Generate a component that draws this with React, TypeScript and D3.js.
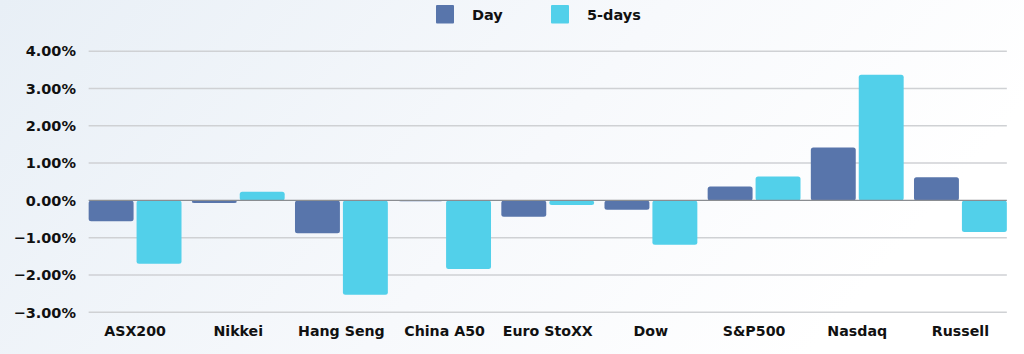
import { useRef, useEffect } from "react";
import * as d3 from "d3";

const categories = [
  "ASX200",
  "Nikkei",
  "Hang Seng",
  "China A50",
  "Euro StoXX",
  "Dow",
  "S&P500",
  "Nasdaq",
  "Russell",
];
const dayValues = [-0.56, -0.07, -0.88, -0.02, -0.44, -0.25, 0.37, 1.42, 0.62];
const fiveDayValues = [-1.7, 0.23, -2.53, -1.84, -0.12, -1.19, 0.64, 3.37, -0.85];
const yTicks = [-3, -2, -1, 0, 1, 2, 3, 4];

const seriesKeys = ["Day", "5-days"];
const seriesColors = ["#5875ab", "#52d0ea"];

const WIDTH = 1024;
const HEIGHT = 354;
const FONT = "'DejaVu Sans', sans-serif";

export default function App() {
  const svgRef = useRef<SVGSVGElement>(null);

  useEffect(() => {
    if (!svgRef.current) return;
    const svg = d3.select(svgRef.current);
    svg.selectAll("*").remove();

    // background gradient
    const defs = svg.append("defs");
    const grad = defs
      .append("linearGradient")
      .attr("id", "bg")
      .attr("x1", "0")
      .attr("y1", "0")
      .attr("x2", "1")
      .attr("y2", "0.3");
    grad.append("stop").attr("offset", "0").attr("stop-color", "#e8eff6");
    grad.append("stop").attr("offset", "0.6").attr("stop-color", "#f7f9fc");
    grad.append("stop").attr("offset", "1").attr("stop-color", "#ffffff");
    svg.append("rect").attr("width", WIDTH).attr("height", HEIGHT).attr("fill", "url(#bg)");

    const x0 = d3
      .scaleBand<string>()
      .domain(categories)
      .range([83.5, 1012])
      .paddingInner(0.1)
      .paddingOuter(0.05);

    const x1 = d3
      .scaleBand<string>()
      .domain(seriesKeys)
      .range([0, x0.bandwidth()])
      .paddingInner(0.0625);

    const y = d3.scaleLinear().domain([-3, 4]).range([312.3, 51.2]);

    const plotLeft = x0(categories[0])!;
    const plotRight = x0(categories[categories.length - 1])! + x0.bandwidth();

    // gridlines
    const g = svg.append("g");
    g.selectAll("line.grid")
      .data(yTicks.filter((t) => t !== 0))
      .join("line")
      .attr("class", "grid")
      .attr("x1", plotLeft)
      .attr("x2", plotRight)
      .attr("y1", (d) => y(d))
      .attr("y2", (d) => y(d))
      .attr("stroke", "#cfd1d4")
      .attr("stroke-width", 1.5);

    // y tick labels
    g.selectAll("text.ytick")
      .data(yTicks)
      .join("text")
      .attr("class", "ytick")
      .attr("x", 76)
      .attr("y", (d) => y(d))
      .attr("dy", "0.36em")
      .attr("text-anchor", "end")
      .attr("fill", "#111")
      .style("font-family", FONT)
      .style("font-size", "14.5px")
      .style("font-weight", 700)
      .text((d) => `${d3.format(".2f")(d)}%`);

    // bars
    const data = categories.map((c, i) => ({
      cat: c,
      values: [dayValues[i], fiveDayValues[i]],
    }));

    const groups = g
      .selectAll("g.cat")
      .data(data)
      .join("g")
      .attr("class", "cat")
      .attr("transform", (d) => `translate(${x0(d.cat)},0)`);

    groups
      .selectAll("rect")
      .data((d) => d.values.map((v, k) => ({ key: seriesKeys[k], v, k })))
      .join("rect")
      .attr("x", (d) => x1(d.key)!)
      .attr("width", x1.bandwidth())
      .attr("y", (d) => Math.min(y(d.v), y(0)))
      .attr("height", (d) => Math.max(Math.abs(y(d.v) - y(0)), 0.8))
      .attr("rx", 2.5)
      .attr("fill", (d) => seriesColors[d.k]);

    // zero line
    g.append("line")
      .attr("x1", plotLeft)
      .attr("x2", plotRight)
      .attr("y1", y(0))
      .attr("y2", y(0))
      .attr("stroke", "#8a8d91")
      .attr("stroke-width", 1.2);

    // x labels
    g.selectAll("text.xlab")
      .data(categories)
      .join("text")
      .attr("class", "xlab")
      .attr("x", (d) => x0(d)! + x0.bandwidth() / 2)
      .attr("y", 331)
      .attr("dy", "0.36em")
      .attr("text-anchor", "middle")
      .attr("fill", "#111")
      .style("font-family", FONT)
      .style("font-size", "14.2px")
      .style("font-weight", 700)
      .text((d) => d);

    // legend
    const legendX = [436, 551];
    const legend = svg
      .selectAll("g.legend")
      .data(seriesKeys)
      .join("g")
      .attr("class", "legend")
      .attr("transform", (_, i) => `translate(${legendX[i]},5)`);
    legend
      .append("rect")
      .attr("width", 18)
      .attr("height", 18.5)
      .attr("rx", 1)
      .attr("fill", (_, i) => seriesColors[i]);
    legend
      .append("text")
      .attr("x", 36)
      .attr("y", 9.5)
      .attr("dy", "0.36em")
      .attr("fill", "#111")
      .style("font-family", FONT)
      .style("font-size", "14.5px")
      .style("font-weight", 700)
      .text((d) => d);
  }, []);

  return (
    <div style={{ position: "absolute", left: 0, top: 0, width: WIDTH, height: HEIGHT }}>
      <svg ref={svgRef} width={WIDTH} height={HEIGHT} style={{ display: "block" }} />
    </div>
  );
}
